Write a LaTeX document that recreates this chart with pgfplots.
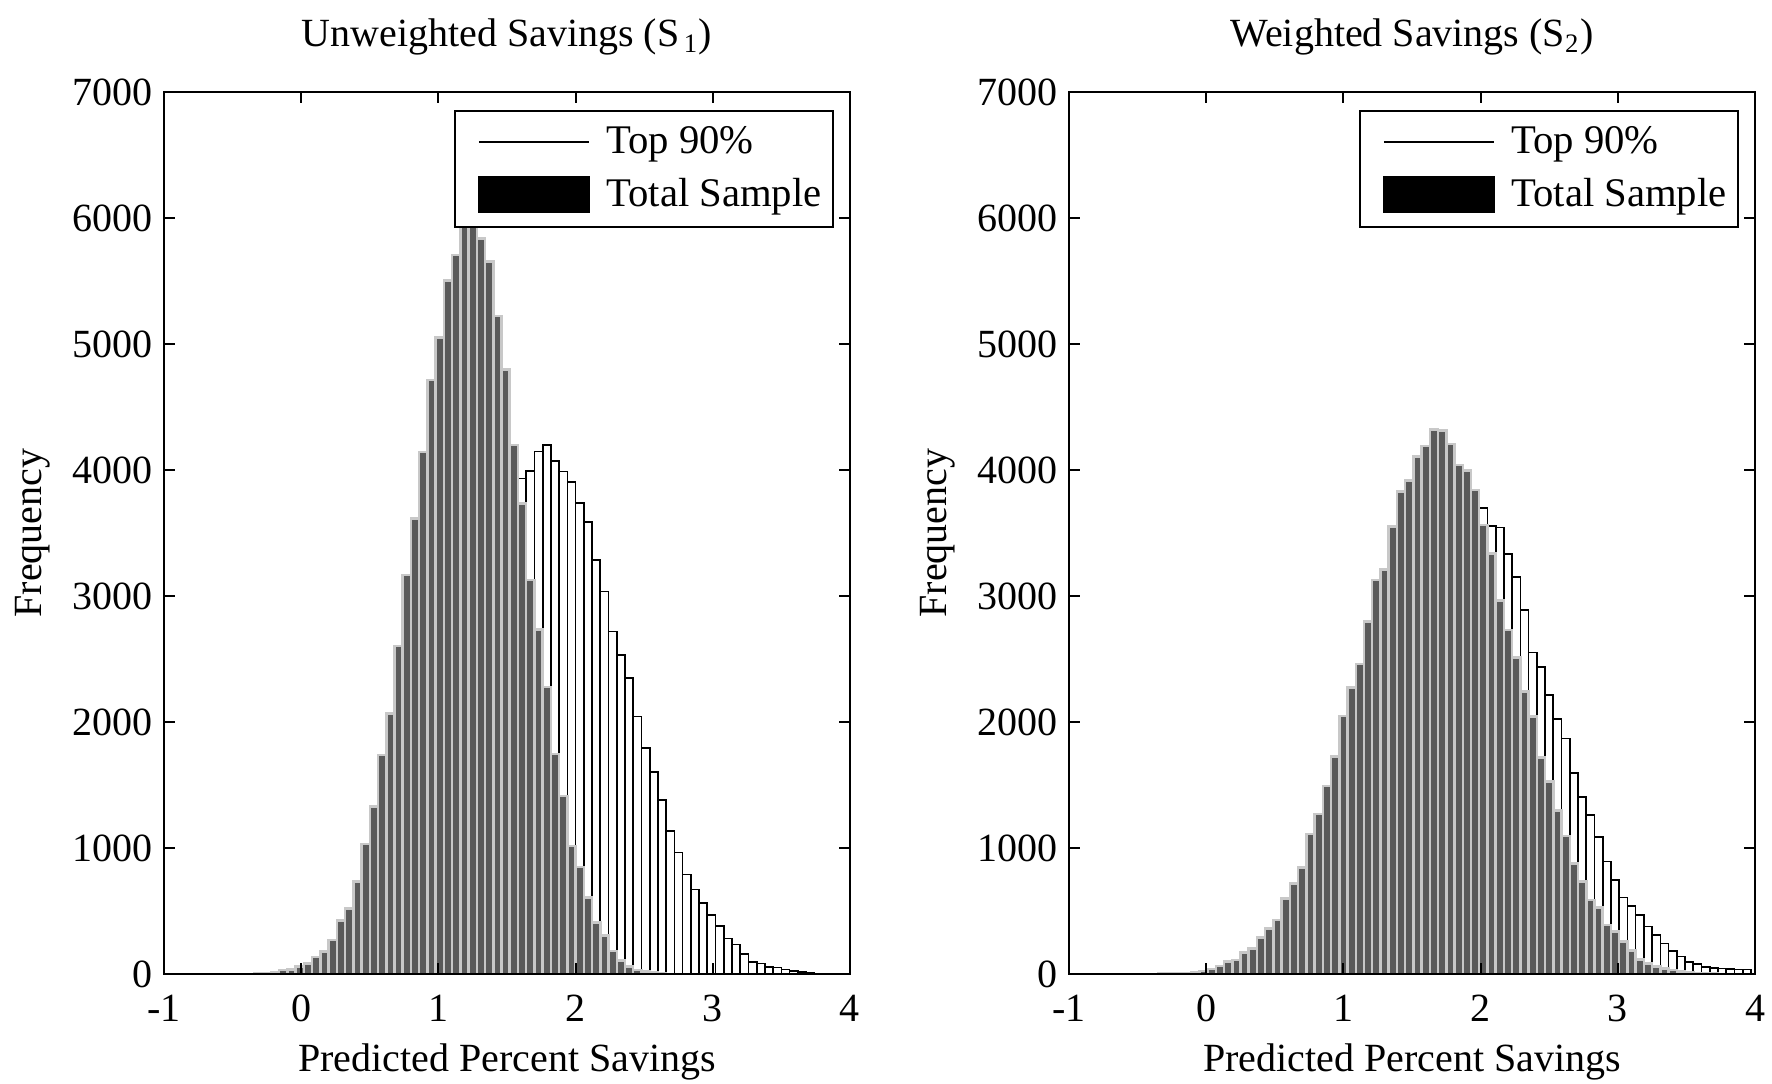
\documentclass[border=0pt]{standalone}
\usepackage{fontspec}
\setmainfont{Liberation Serif}
\usepackage{pgfplots}
\usepackage{pgfplotstable}
\pgfplotsset{compat=1.18}
\definecolor{totalgray}{RGB}{90,90,90}
\definecolor{stripgray}{RGB}{200,200,200}

% left panel, unweighted savings
\pgfplotstableread{
x total
-0.31 8
-0.25 10
-0.19 18
-0.13 30
-0.07 35
-0.01 58
0.05 85
0.11 137
0.17 177
0.23 270
0.29 423
0.35 521
0.41 733
0.47 1032
0.53 1328
0.59 1738
0.65 2069
0.71 2603
0.77 3167
0.83 3616
0.89 4145
0.95 4714
1.01 5053
1.07 5503
1.13 5706
1.19 6000
1.25 5980
1.31 5838
1.37 5653
1.43 5222
1.49 4799
1.55 4200
1.61 3736
1.67 3128
1.73 2734
1.79 2278
1.85 1746
1.91 1412
1.97 1018
2.03 850
2.09 607
2.15 410
2.21 304
2.27 182
2.33 106
2.39 61
2.45 30
2.51 20
2.57 12
2.63 6
}\leftTotal

\pgfplotstableread{
x top
-0.31 3
-0.25 5
-0.19 8
-0.13 12
-0.07 18
-0.01 35
0.05 58
0.11 71
0.17 98
0.23 119
0.29 182
0.35 201
0.41 291
0.47 370
0.53 415
0.59 513
0.65 685
0.71 751
0.77 944
0.83 1217
0.89 1315
0.95 1526
1.01 1751
1.07 2063
1.13 2254
1.19 2492
1.25 2815
1.31 3008
1.37 3254
1.43 3444
1.49 3648
1.55 3800
1.61 3933
1.67 3994
1.73 4146
1.79 4198
1.85 4074
1.91 3987
1.97 3905
2.03 3738
2.09 3587
2.15 3287
2.21 3036
2.27 2718
2.33 2530
2.39 2352
2.45 2044
2.51 1792
2.57 1601
2.63 1382
2.69 1136
2.75 964
2.81 789
2.87 671
2.93 562
2.99 467
3.05 379
3.11 283
3.17 234
3.23 158
3.29 98
3.35 84
3.41 56
3.47 52
3.53 37
3.59 25
3.65 15
3.71 8
}\leftTop

% right panel, weighted savings
\pgfplotstableread{
x total
-0.32 5
-0.26 3
-0.20 6
-0.14 10
-0.08 18
-0.02 25
0.04 40
0.10 63
0.16 98
0.22 111
0.28 169
0.34 204
0.40 291
0.46 362
0.52 429
0.58 601
0.64 720
0.70 847
0.76 1111
0.82 1270
0.88 1492
0.94 1725
1.00 2048
1.06 2275
1.12 2460
1.18 2799
1.24 3127
1.30 3212
1.36 3550
1.42 3828
1.48 3915
1.54 4106
1.60 4190
1.66 4323
1.72 4312
1.78 4206
1.84 4040
1.90 3995
1.96 3841
2.02 3563
2.08 3339
2.14 2963
2.20 2730
2.26 2513
2.32 2241
2.38 2042
2.44 1720
2.50 1526
2.56 1296
2.62 1095
2.68 878
2.74 733
2.80 587
2.86 529
2.92 389
2.98 336
3.04 257
3.10 185
3.16 116
3.22 85
3.28 58
3.34 45
3.40 32
3.46 22
3.52 15
3.58 10
3.64 6
3.70 4
}\rightTotal

\pgfplotstableread{
x top
-0.32 3
-0.26 2
-0.20 3
-0.14 5
-0.08 10
-0.02 18
0.04 30
0.10 50
0.16 80
0.22 105
0.28 138
0.34 175
0.40 217
0.46 317
0.52 376
0.58 415
0.64 566
0.70 667
0.76 772
0.82 958
0.88 1122
0.94 1328
1.00 1426
1.06 1659
1.12 1976
1.18 2127
1.24 2302
1.30 2593
1.36 2799
1.42 2929
1.48 3225
1.54 3370
1.60 3503
1.66 3688
1.72 3714
1.78 3881
1.84 3921
1.90 3902
1.96 3790
2.02 3696
2.08 3556
2.14 3545
2.20 3333
2.26 3153
2.32 2889
2.38 2553
2.44 2439
2.50 2214
2.56 2024
2.62 1870
2.68 1598
2.74 1407
2.80 1262
2.86 1085
2.92 892
2.98 746
3.04 608
3.10 540
3.16 468
3.22 376
3.28 310
3.34 243
3.40 185
3.46 138
3.52 98
3.58 79
3.64 58
3.70 50
3.76 45
3.82 40
3.88 37
3.94 35
}\rightTop

\pgfplotsset{
  panel/.style={
    scale only axis, width=205.8pt, height=264.6pt,
    xmin=-1, xmax=4, ymin=0, ymax=7000,
    xtick={-1,0,1,2,3,4}, ytick={0,1000,...,7000},
    axis on top, tick align=inside, major tick length=3.3pt,
    axis line style={line width=0.6pt},
    every tick/.style={black, line width=0.6pt},
    font=\fontsize{12}{14}\selectfont,
    /pgf/number format/assume math mode=true,
    /pgf/number format/1000 sep={},
    scaled ticks=false,
    xticklabel style={yshift=-2.8pt},
    ylabel={Frequency}, xlabel={Predicted Percent Savings},
    every axis y label/.style={at={(axis description cs:-0.192,0.5)}, rotate=90, anchor=center},
    every axis x label/.style={at={(axis description cs:0.5,-0.1)}, anchor=center},
    every axis title/.style={at={(axis description cs:0.5,1.063)}, anchor=center},
    legend style={at={(1,1)}, anchor=north east, xshift=-4.8pt, yshift=-5.4pt,
      draw=black, line width=0.5pt, font=\fontsize{12.2}{14}\selectfont,
      inner xsep=1.5pt, inner ysep=2.6pt, row sep=2pt},
    legend cell align=left,
  },
  topbars/.style={ybar, bar shift=0pt, bar width=0.06, fill=white, draw=black,
    line width=0.5pt, forget plot},
  totalbars/.style={ybar, bar shift=0pt, bar width=0.06, fill=totalgray,
    draw=stripgray, line width=0.75pt, forget plot},
}

\newcommand{\panellegend}{%
  \addlegendimage{legend image code/.code={\path (-5.5pt,0pt) (36pt,0pt);
    \draw[black,line width=0.5pt] (0pt,0pt) -- (33pt,0pt);}}
  \addlegendentry{Top 90\%}
  \addlegendimage{legend image code/.code={\path (-5.5pt,0pt) (36pt,0pt);
    \fill[black] (0pt,-5.3pt) rectangle (33pt,5.3pt);}}
  \addlegendentry{Total Sample}}

\begin{document}
\begin{tikzpicture}
\useasboundingbox (-49.2pt,-32.7pt) rectangle (482.4pt,292.2pt);

\begin{axis}[panel, title={Unweighted Savings (S\textsubscript{\,1})}]
\panellegend
\addplot[topbars] table[x=x,y=top] {\leftTop};
\addplot[totalbars] table[x=x,y=total] {\leftTotal};
\end{axis}

\begin{axis}[panel, at={(271.5pt,0pt)}, anchor=south west,
  title={Weighted Savings (S\textsubscript{2})}]
\panellegend
\addplot[topbars] table[x=x,y=top] {\rightTop};
\addplot[totalbars] table[x=x,y=total] {\rightTotal};
\end{axis}
\end{tikzpicture}
\end{document}
